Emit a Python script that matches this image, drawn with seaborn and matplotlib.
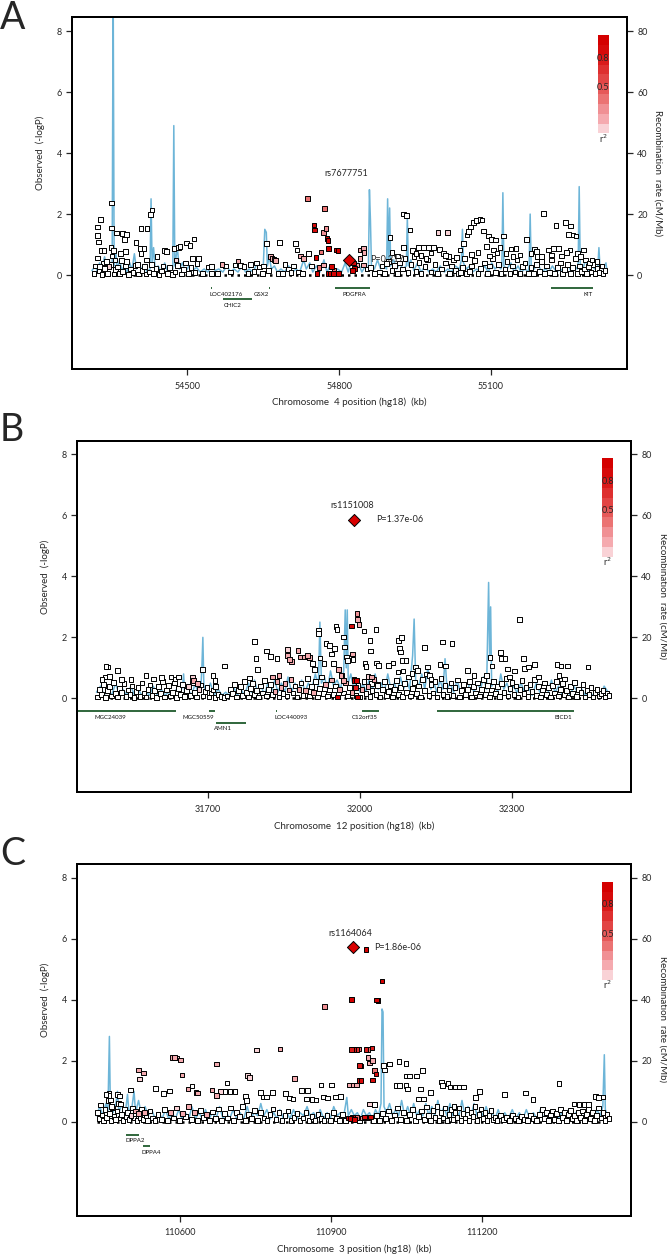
import numpy as np
import pandas as pd
import matplotlib
matplotlib.use("Agg")
import matplotlib.pyplot as plt
import seaborn as sns

sns.set_style("ticks")
plt.rcParams["font.family"] = ["Lato", "DejaVu Sans"]

# ---------------- colours ----------------
LD_COLORS = ["#F9D2D6", "#F5AAAF", "#F09094", "#EB7373", "#E65959",
             "#E24545", "#DE2F2F", "#DA1B1B", "#D60A0A", "#D40000"]
BLUE = "#6DB5D8"
GENE_GREEN = "#1F5A2C"
LEAD_RED = "#D90000"

# ---------------- panel A data (chr4) ----------------
A_snps = [
    (54322, 1.57, 0), (54322, 1.29, 0), (54328, 1.83, 0), (54324, 1.08, 0), (54322, 0.56, 0),
    (54330, 0.81, 0), (54335, 0.80, 0), (54334, 0.39, 0), (54326, 0.28, 0), (54340, 0.45, 0),
    (54350, 2.36, 0), (54350, 1.54, 0), (54349, 0.91, 0), (54354, 0.80, 0), (54351, 0.63, 0),
    (54345, 0.28, 0.05), (54360, 1.38, 0), (54371, 1.36, 0), (54379, 1.34, 0), (54376, 1.16, 0),
    (54377, 0.78, 0), (54370, 0.48, 0), (54367, 0.70, 0), (54357, 0.50, 0), (54380, 0.45, 0),
    (54398, 1.07, 0), (54408, 1.53, 0), (54420, 1.53, 0), (54427, 1.98, 0), (54430, 2.14, 0),
    (54406, 0.88, 0), (54414, 0.88, 0), (54408, 0.70, 0), (54419, 0.50, 0), (54401, 0.34, 0),
    (54440, 0.60, 0), (54454, 0.81, 0), (54458, 0.78, 0), (54473, 0.88, 0), (54482, 0.90, 0),
    (54485, 0.94, 0), (54477, 0.50, 0.05), (54498, 1.05, 0), (54505, 0.97, 0), (54513, 1.18, 0),
    (54510, 0.54, 0), (54522, 0.54, 0),
    (54542, 0.26, 0), (54547, 0.29, 0), (54568, 0.35, 0.12), (54575, 0.30, 0), (54594, 0.33, 0),
    (54600, 0.46, 0.12), (54605, 0.32, 0), (54612, 0.28, 0), (54625, 0.35, 0), (54636, 0.39, 0),
    (54642, 0.27, 0), (54651, 0.30, 0), (54656, 1.04, 0), (54664, 0.60, 0.12), (54667, 0.55, 0.12),
    (54671, 0.52, 0.12), (54674, 0.47, 0.12), (54682, 1.07, 0), (54693, 0.35, 0), (54714, 1.04, 0),
    (54717, 0.82, 0), (54724, 0.62, 0.12), (54730, 0.55, 0.12), (54739, 0.71, 0), (54710, 0.30, 0),
    (54737, 2.51, 0.3), (54771, 2.19, 0.3), (54750, 1.64, 0.85), (54751, 1.48, 0.85),
    (54774, 1.53, 0.25), (54769, 1.39, 0.2), (54776, 1.20, 0.9), (54778, 1.14, 0.9),
    (54779, 0.87, 0.9), (54795, 0.82, 0.9), (54798, 0.80, 0.9), (54754, 0.57, 0.9),
    (54764, 0.76, 0.3), (54769, 0.33, 0.12), (54785, 0.29, 0.9), (54756, 0.05, 0.9),
    (54779, 0.05, 0.9), (54782, 0.05, 0.9), (54789, 0.05, 0.9), (54799, 0.05, 0.9),
    (54745, 0.30, 0), (54760, 0.25, 0.3), (54790, 0.15, 0.3),
    (54841, 0.82, 0.15), (54848, 0.87, 0.15), (54849, 0.74, 0.15), (54841, 0.55, 0.15),
    (54835, 0.33, 0.15), (54848, 0.33, 0.12), (54830, 0.22, 0.9), (54826, 0.15, 0.9),
    (54828, 0.40, 0.8), (54855, 0.20, 0), (54862, 0.25, 0), (54870, 0.05, 0),
    (54894, 0.38, 0), (54927, 2.00, 0), (54933, 1.95, 0), (54940, 1.48, 0), (54901, 1.23, 0),
    (54927, 0.90, 0), (54957, 0.91, 0), (54967, 0.91, 0), (54977, 0.91, 0), (54987, 0.91, 0),
    (54996, 1.39, 0.05), (55015, 1.39, 0.05), (54999, 0.84, 0), (55006, 0.71, 0), (55016, 0.60, 0),
    (55026, 0.49, 0), (55039, 0.82, 0), (55046, 1.04, 0), (55053, 1.31, 0), (55056, 1.42, 0),
    (55060, 1.58, 0), (55066, 1.72, 0), (55072, 1.78, 0), (55079, 1.83, 0), (55083, 1.80, 0),
    (55086, 1.44, 0), (55095, 1.28, 0), (55102, 1.17, 0), (55109, 1.15, 0), (55092, 0.93, 0),
    (55105, 0.82, 0), (55118, 0.90, 0), (55125, 1.28, 0), (55171, 1.17, 0), (55204, 2.02, 0),
    (55192, 0.60, 0), (55214, 0.82, 0), (55224, 0.87, 0), (55234, 0.87, 0), (55229, 1.63, 0),
    (55248, 1.72, 0), (55258, 1.61, 0), (55263, 1.31, 0), (55269, 1.28, 0), (55283, 0.82, 0),
    (55257, 0.82, 0), (55254, 1.34, 0), (55287, 0.49, 0), (55295, 0.40, 0),
    (54905, 0.75, 0), (54915, 0.62, 0), (54945, 0.80, 0), (54952, 0.70, 0), (54962, 0.65, 0),
    (54972, 0.55, 0), (54982, 0.72, 0), (55010, 0.65, 0), (55032, 0.58, 0), (55062, 0.68, 0),
    (55075, 0.75, 0), (55098, 0.62, 0), (55112, 0.72, 0), (55130, 0.70, 0), (55140, 0.85, 0),
    (55150, 0.88, 0), (55144, 0.60, 0), (55158, 0.66, 0), (55180, 0.70, 0), (55186, 0.85, 0),
    (55190, 0.78, 0), (55200, 0.60, 0), (55220, 0.66, 0), (55240, 0.62, 0), (55250, 0.75, 0),
    (55272, 0.70, 0), (55278, 0.60, 0), (55300, 0.50, 0), (55310, 0.45, 0), (55320, 0.30, 0),
]
A_base = [
    (54315, .05), (54318, .30), (54325, .15), (54331, .02), (54336, .22), (54342, .06), (54348, .35),
    (54355, .03), (54358, .18), (54362, .27), (54366, .05), (54372, .12), (54378, .30), (54383, .02),
    (54387, .20), (54392, .08), (54396, .32), (54403, .04), (54410, .15), (54415, .28), (54418, .03),
    (54424, .10), (54429, .35), (54433, .05), (54438, .22), (54444, .02), (54449, .14), (54452, .30),
    (54460, .06), (54464, .25), (54470, .02), (54475, .10), (54480, .32), (54488, .04), (54492, .18),
    (54496, .40), (54502, .05), (54507, .25), (54515, .08), (54519, .38), (54530, .05), (54548, .05),
    (54560, .05), (54585, .10), (54620, .05), (54632, .12), (54648, .05), (54660, .15), (54680, .05),
    (54688, .05), (54700, .20), (54705, .08), (54720, .10), (54728, .05),
    (54880, .10), (54885, .30), (54890, .05), (54898, .45), (54905, .15), (54910, .32), (54915, .05),
    (54920, .40), (54925, .20), (54930, .55), (54936, .08), (54942, .35), (54948, .60), (54952, .12),
    (54958, .42), (54962, .05), (54970, .28), (54975, .50), (54982, .10), (54990, .35), (54995, .05),
    (55002, .20), (55010, .40), (55018, .05), (55022, .30), (55030, .15), (55035, .05), (55040, .08),
    (55044, .25), (55048, .55), (55052, .05), (55058, .12), (55062, .30), (55068, .48), (55075, .05),
    (55080, .22), (55088, .40), (55093, .06), (55098, .30), (55103, .55), (55110, .08), (55115, .35),
    (55120, .05), (55128, .20), (55132, .45), (55138, .05), (55143, .30), (55148, .10), (55152, .50),
    (55158, .05), (55163, .28), (55168, .40), (55175, .06), (55180, .25), (55185, .05), (55190, .35),
    (55196, .12), (55200, .45), (55206, .05), (55210, .30), (55216, .08), (55220, .50), (55226, .05),
    (55232, .25), (55238, .40), (55242, .05), (55246, .18), (55252, .35), (55258, .05), (55262, .25),
    (55268, .55), (55272, .05), (55276, .30), (55280, .12), (55285, .20), (55290, .05), (55294, .28),
    (55298, .10), (55302, .35), (55306, .05), (55310, .22), (55314, .08), (55318, .30), (55322, .05),
    (55326, .15),
]
A_recomb = [
    (54311, 1.5), (54318, 3), (54322, 1), (54326, 4), (54330, 1.5), (54336, 6), (54340, 2), (54345, 5),
    (54349, 2), (54351, 3), (54353, 95), (54355, 3), (54358, 8), (54361, 2), (54366, 5), (54370, 1.5),
    (54375, 3), (54380, 1), (54386, 4), (54390, 1.5), (54395, 7), (54399, 2), (54404, 4), (54410, 1.5),
    (54416, 3), (54420, 1), (54426, 2), (54428, 25), (54430, 4), (54433, 9), (54436, 2), (54442, 3),
    (54448, 1), (54455, 4), (54460, 1.5), (54466, 3), (54471, 2), (54473, 49), (54475, 3), (54480, 9),
    (54484, 2), (54490, 4), (54496, 1), (54503, 3), (54510, 1.5), (54518, 2.5), (54525, 1), (54533, 2),
    (54540, 1), (54548, 3), (54555, 1.5), (54562, 2), (54570, 1), (54578, 3), (54585, 1), (54592, 2),
    (54600, 1), (54608, 3), (54615, 1), (54622, 2), (54630, 1), (54638, 4), (54644, 2), (54650, 3),
    (54653, 15), (54656, 14), (54658, 3), (54662, 6), (54666, 2), (54672, 3), (54678, 1), (54685, 2),
    (54692, 1), (54700, 3), (54708, 1), (54715, 2), (54722, 1), (54730, 5), (54735, 2), (54742, 4),
    (54748, 1), (54755, 3), (54762, 1), (54770, 5), (54776, 1), (54782, 3), (54790, 1), (54797, 2),
    (54805, 1), (54812, 4), (54818, 1), (54825, 5), (54832, 2), (54838, 4), (54845, 1), (54852, 3),
    (54858, 2), (54860, 28), (54862, 18), (54864, 3), (54870, 2), (54876, 5), (54882, 2), (54888, 3),
    (54894, 2), (54896, 25), (54898, 4), (54900, 22), (54902, 3), (54908, 5), (54914, 2), (54920, 4),
    (54926, 2), (54933, 3), (54935, 19), (54937, 3), (54942, 5), (54948, 1.5), (54955, 4), (54962, 1),
    (54970, 3), (54978, 1), (54985, 2), (54992, 1), (55000, 3), (55008, 1), (55015, 2), (55022, 1),
    (55030, 3), (55038, 2), (55042, 5), (55044, 15), (55046, 4), (55052, 2), (55058, 3), (55064, 1),
    (55072, 2), (55080, 1), (55088, 3), (55095, 1), (55102, 4), (55108, 2), (55115, 3), (55120, 2),
    (55122, 3), (55124, 27), (55126, 3), (55132, 2), (55140, 4), (55146, 1), (55154, 3), (55160, 1),
    (55168, 2), (55174, 1), (55176, 3), (55178, 20), (55180, 3), (55186, 2), (55193, 4), (55200, 1),
    (55208, 2), (55215, 1), (55222, 3), (55230, 1), (55238, 2), (55245, 1), (55252, 4), (55258, 1.5),
    (55265, 3), (55271, 2), (55273, 4), (55275, 29), (55277, 4), (55282, 2), (55288, 5), (55294, 1.5),
    (55300, 3), (55306, 2), (55312, 3), (55314, 9), (55316, 3), (55322, 2), (55328, 4), (55330, 1),
]
A_lead = (54819, 0.50, "rs7677751", "P=0.317", 54815, 3.32)
A_genes = [  # name, start, end, row, label position
    ("LOC402176", 54547, 54549, 0, 54577),
    ("GSX2", 54661, 54663, 0, 54646),
    ("CHIC2", 54571, 54627, 1, 54589),
    ("PDGFRA", 54791, 54861, 0, 54831),
    ("KIT", 55219, 55303, 0, 55292),
]

# ---------------- panel B data (chr12) ----------------
B_snps = [
    (31503, 1.03, 0), (31499, 1.05, 0), (31521, 0.92, 0), (31497, 0.70, 0), (31506, 0.72, 0),
    (31491, 0.61, 0), (31529, 0.61, 0), (31548, 0.61, 0), (31578, 0.74, 0), (31593, 0.64, 0),
    (31608, 0.68, 0), (31627, 0.70, 0), (31635, 0.64, 0), (31642, 0.70, 0), (31669, 0.70, 0.05),
    (31672, 0.59, 0.12), (31680, 0.48, 0.12), (31689, 0.94, 0), (31710, 0.74, 0), (31714, 0.59, 0),
    (31715, 0.39, 0), (31733, 1.06, 0), (31782, 0.67, 0), (31792, 1.87, 0), (31795, 1.30, 0),
    (31798, 0.94, 0), (31816, 1.55, 0), (31823, 1.38, 0), (31836, 1.30, 0), (31827, 0.70, 0.12),
    (31840, 0.75, 0.12), (31857, 1.40, 0.12), (31861, 1.27, 0.12), (31865, 1.21, 0.1), (31857, 1.60, 0.05),
    (31878, 1.57, 0.12), (31882, 1.36, 0.12), (31891, 1.36, 0.12), (31897, 1.41, 0.12), (31900, 1.33, 0.1),
    (31906, 1.14, 0), (31910, 0.94, 0), (31918, 2.23, 0), (31918, 2.12, 0), (31921, 1.32, 0),
    (31929, 1.14, 0), (31933, 1.79, 0), (31940, 1.74, 0), (31944, 1.46, 0), (31948, 1.14, 0),
    (31950, 1.63, 0), (31953, 2.36, 0), (31955, 2.25, 0), (31958, 0.94, 0.12), (31963, 0.75, 0.12),
    (31968, 2.01, 0), (31970, 1.68, 0), (31973, 1.36, 0), (31976, 1.25, 0), (31967, 0.59, 0.12),
    (31983, 2.37, 0.85), (31985, 1.46, 0.12), (31986, 1.27, 0), (31988, 0.59, 0.9), (31993, 0.59, 0.9),
    (31991, 0.35, 0.7), (31994, 2.78, 0.25), (31995, 2.58, 0.12), (31998, 2.43, 0.12), (31995, 0.04, 0.9),
    (32008, 2.21, 0), (32020, 1.90, 0), (32021, 1.55, 0), (32010, 1.14, 0), (32012, 1.05, 0),
    (32016, 0.72, 0.05), (32023, 0.48, 0), (32032, 2.26, 0), (32033, 1.16, 0), (32037, 1.08, 0),
    (32023, 0.70, 0.12), (32035, 0.43, 0), (32056, 1.08, 0), (32065, 1.16, 0), (32076, 1.90, 0),
    (32078, 1.63, 0), (32080, 1.52, 0), (32082, 1.99, 0), (32084, 1.25, 0), (32091, 1.25, 0),
    (32075, 0.86, 0), (32085, 0.90, 0), (32103, 0.81, 0), (32110, 1.03, 0), (32114, 0.92, 0),
    (32127, 1.66, 0), (32133, 1.03, 0), (32137, 0.75, 0), (32140, 0.64, 0), (32158, 1.11, 0),
    (32169, 1.06, 0), (32163, 1.85, 0), (32182, 1.79, 0), (32212, 0.92, 0), (32225, 0.74, 0),
    (32250, 0.75, 0), (32257, 1.33, 0), (32261, 1.06, 0), (32278, 1.50, 0), (32280, 1.30, 0),
    (32286, 1.30, 0), (32291, 0.96, 0), (32295, 0.70, 0), (32305, 0.90, 0), (32315, 2.58, 0),
    (32323, 1.30, 0), (32325, 0.97, 0), (32333, 1.03, 0), (32344, 1.10, 0), (32352, 0.70, 0),
    (32389, 1.10, 0), (32397, 1.06, 0), (32410, 1.06, 0), (32393, 0.75, 0), (32404, 0.64, 0),
    (32450, 1.03, 0),
]
B_base = [
    (31482, .05, 0), (31486, .30, 0), (31490, .12, 0), (31494, .45, 0), (31498, .02, 0), (31502, .25, 0),
    (31506, .38, 0), (31510, .08, 0), (31514, .52, 0), (31518, .15, 0), (31522, .04, 0), (31526, .33, 0),
    (31530, .20, 0), (31534, .48, 0), (31538, .06, 0), (31542, .28, 0), (31546, .12, 0), (31550, .40, 0),
    (31554, .03, 0), (31558, .22, 0), (31562, .35, 0), (31566, .07, 0), (31570, .50, 0), (31574, .18, 0),
    (31578, .04, 0), (31582, .30, 0), (31586, .44, 0), (31590, .10, 0), (31594, .25, 0), (31598, .02, 0),
    (31602, .38, 0), (31606, .15, 0), (31610, .55, 0), (31614, .05, 0), (31618, .28, 0), (31622, .42, 0),
    (31626, .08, 0), (31630, .20, 0), (31634, .50, 0), (31638, .03, 0), (31642, .33, 0), (31646, .12, 0),
    (31650, .45, 0), (31654, .06, 0), (31658, .25, 0), (31662, .38, .05), (31666, .10, 0), (31670, .52, 0),
    (31674, .20, 0), (31678, .04, 0), (31682, .30, .05), (31686, .44, 0), (31690, .08, 0), (31694, .22, 0),
    (31698, .35, 0), (31702, .05, 0), (31706, .18, 0), (31710, .28, 0), (31714, .03, 0), (31720, .12, 0),
    (31726, .06, 0), (31732, .02, 0), (31738, .08, 0), (31744, .30, 0), (31748, .15, 0), (31752, .45, 0),
    (31756, .05, 0), (31760, .25, 0), (31764, .38, 0), (31768, .10, 0), (31772, .55, 0), (31776, .20, 0),
    (31780, .04, 0), (31784, .32, 0), (31788, .48, 0), (31792, .12, 0), (31796, .25, 0), (31800, .05, 0),
    (31804, .40, 0), (31808, .18, 0), (31812, .58, 0), (31816, .08, 0), (31820, .30, 0), (31824, .45, 0),
    (31828, .12, 0), (31832, .22, .12), (31836, .55, .12), (31840, .05, 0), (31844, .35, .12), (31848, .15, 0),
    (31852, .48, .12), (31856, .08, 0), (31860, .28, .12), (31864, .62, .12), (31868, .18, 0), (31872, .40, 0),
    (31876, .05, 0), (31880, .30, .12), (31884, .50, 0), (31888, .10, 0), (31892, .25, .12), (31896, .65, 0),
    (31900, .08, 0), (31904, .38, 0), (31908, .20, .12), (31912, .55, 0), (31916, .04, 0), (31920, .32, 0),
    (31924, .70, 0), (31928, .15, 0), (31932, .45, .12), (31936, .08, 0), (31940, .28, 0), (31944, .60, .12),
    (31948, .12, 0), (31952, .40, 0), (31956, .05, .9), (31960, .30, .12), (31964, .75, 0), (31968, .18, 0),
    (31972, .50, .12), (31976, .08, 0), (31980, .35, 0), (31984, .20, .12), (31988, .62, 0), (31992, .10, 0),
    (31996, .42, 0), (32000, .05, 0), (32004, .30, .12), (32008, .55, 0), (32012, .15, 0), (32016, .38, .12),
    (32020, .06, 0), (32024, .25, 0), (32028, .62, .12), (32032, .12, 0), (32036, .45, 0), (32040, .04, 0),
    (32044, .30, 0), (32048, .55, 0), (32052, .10, 0), (32056, .22, 0), (32060, .40, 0), (32064, .05, 0),
    (32068, .30, 0), (32072, .58, 0), (32076, .12, 0), (32080, .35, 0), (32084, .06, 0), (32088, .48, 0),
    (32092, .20, 0), (32096, .70, 0), (32100, .08, 0), (32104, .32, 0), (32108, .52, 0), (32112, .15, 0),
    (32116, .40, 0), (32120, .05, 0), (32124, .62, 0), (32128, .25, 0), (32132, .80, 0), (32136, .10, 0),
    (32140, .45, 0), (32144, .18, 0), (32148, .55, 0), (32152, .05, 0), (32156, .30, 0), (32160, .65, 0),
    (32164, .12, 0), (32168, .42, 0), (32172, .06, 0), (32176, .28, 0), (32180, .50, 0), (32184, .10, 0),
    (32188, .35, 0), (32192, .60, 0), (32196, .04, 0), (32200, .25, 0), (32204, .45, 0), (32208, .12, 0),
    (32212, .30, 0), (32216, .55, 0), (32220, .05, 0), (32224, .38, 0), (32228, .18, 0), (32232, .50, 0),
    (32236, .08, 0), (32240, .30, 0), (32244, .62, 0), (32248, .12, 0), (32252, .42, 0), (32256, .05, 0),
    (32260, .28, 0), (32264, .55, 0), (32268, .15, 0), (32272, .38, 0), (32276, .06, 0), (32280, .48, 0),
    (32284, .20, 0), (32288, .65, 0), (32292, .08, 0), (32296, .32, 0), (32300, .52, 0), (32304, .12, 0),
    (32308, .40, 0), (32312, .05, 0), (32316, .30, 0), (32320, .58, 0), (32324, .15, 0), (32328, .35, 0),
    (32332, .06, 0), (32336, .45, 0), (32340, .22, 0), (32344, .62, 0), (32348, .10, 0), (32352, .38, 0),
    (32356, .05, 0), (32360, .28, 0), (32364, .50, 0), (32368, .12, 0), (32372, .35, 0), (32376, .04, 0),
    (32380, .42, 0), (32384, .18, 0), (32388, .55, 0), (32392, .08, 0), (32396, .30, 0), (32400, .48, 0),
    (32404, .12, 0), (32408, .25, 0), (32412, .05, 0), (32416, .38, 0), (32420, .15, 0), (32424, .52, 0),
    (32428, .06, 0), (32432, .30, 0), (32436, .20, 0), (32440, .45, 0), (32444, .05, 0), (32448, .25, 0),
    (32452, .12, 0), (32456, .35, 0), (32460, .04, 0), (32464, .20, 0), (32468, .30, 0), (32472, .08, 0),
    (32476, .15, 0), (32480, .25, 0), (32484, .05, 0), (32488, .18, 0), (32492, .10, 0),
]
B_recomb = [
    (31480, 2), (31488, 4), (31495, 1), (31503, 3), (31510, 1), (31518, 5), (31525, 1), (31532, 3),
    (31540, 1), (31548, 4), (31555, 1), (31562, 3), (31570, 1), (31578, 2), (31585, 1), (31592, 4),
    (31600, 1), (31608, 3), (31615, 1), (31622, 2), (31630, 1), (31638, 3), (31645, 2), (31650, 4),
    (31652, 8), (31654, 2), (31660, 3), (31668, 1), (31675, 5), (31680, 2), (31686, 3), (31688, 10),
    (31690, 20), (31692, 4), (31698, 2), (31705, 5), (31712, 1), (31720, 3), (31728, 1), (31735, 2),
    (31742, 1), (31750, 4), (31758, 1), (31765, 3), (31772, 1), (31780, 5), (31786, 2), (31792, 6),
    (31798, 2), (31805, 4), (31812, 1), (31818, 5), (31825, 2), (31832, 6), (31838, 2), (31845, 5),
    (31852, 2), (31858, 7), (31865, 2), (31872, 5), (31878, 2), (31885, 6), (31892, 2), (31898, 5),
    (31905, 3), (31912, 8), (31918, 4), (31921, 25), (31924, 5), (31930, 7), (31936, 3), (31942, 9),
    (31948, 4), (31955, 6), (31962, 3), (31968, 9), (31971, 29), (31973, 10), (31975, 29), (31977, 5),
    (31982, 8), (31988, 3), (31994, 6), (32000, 2), (32006, 5), (32012, 2), (32018, 6), (32024, 2),
    (32030, 8), (32036, 3), (32042, 5), (32048, 2), (32055, 8), (32061, 3), (32068, 5), (32074, 2),
    (32080, 7), (32086, 3), (32092, 6), (32098, 3), (32104, 14), (32107, 26), (32110, 6), (32116, 4),
    (32122, 8), (32128, 3), (32134, 10), (32140, 3), (32146, 5), (32152, 2), (32158, 6), (32164, 3),
    (32168, 13), (32172, 3), (32178, 5), (32185, 2), (32192, 6), (32198, 2), (32205, 5), (32212, 2),
    (32218, 6), (32225, 2), (32232, 5), (32238, 3), (32244, 7), (32250, 3), (32254, 38), (32256, 14),
    (32258, 30), (32260, 4), (32266, 6), (32272, 2), (32278, 8), (32284, 3), (32290, 5), (32296, 2),
    (32303, 4), (32310, 2), (32318, 5), (32325, 2), (32332, 4), (32340, 1), (32348, 5), (32355, 2),
    (32362, 3), (32370, 1), (32378, 6), (32385, 2), (32392, 4), (32400, 1), (32408, 3), (32415, 1),
    (32422, 4), (32430, 2), (32438, 3), (32445, 1), (32452, 2), (32460, 1), (32468, 3), (32475, 1),
    (32482, 4), (32490, 2), (32494, 1),
]
B_lead = (31988, 5.86, "rs1151008", "P=1.37e-06", 31984, 6.32)
B_genes = [
    ("MGC24039", 31400, 31637, 0, 31508),
    ("MGC50559", 31703, 31714, 0, 31680),
    ("AMN1", 31716, 31776, 1, 31730),
    ("LOC440093", 31835, 31837, 0, 31865),
    ("C12orf35", 32004, 32038, 0, 32010),
    ("BICD1", 32152, 32423, 0, 32401),
]

# ---------------- panel C data (chr3) ----------------
C_snps = [
    (110969, 5.65, 0.9), (111001, 4.62, 0.9), (110940, 4.02, 0.9), (110990, 4.00, 0.9),
    (110993, 3.98, 0.85), (110887, 3.78, 0.2), (110752, 2.35, 0.05), (110798, 2.39, 0.12),
    (110940, 2.37, 0.75), (110944, 2.37, 0.7), (110950, 2.38, 0.6), (110954, 2.39, 0.35),
    (110969, 2.38, 0.7), (110973, 2.38, 0.35), (110981, 2.42, 0.7), (110973, 2.11, 0.12),
    (110976, 1.93, 0.12), (110982, 2.01, 0.12), (110956, 1.84, 0.7), (110958, 1.83, 0.35),
    (110955, 1.36, 0.8), (110959, 1.36, 0.8), (110982, 1.37, 0.85), (110986, 1.68, 0.3),
    (110989, 1.57, 0.8), (110936, 1.21, 0.15), (110944, 1.21, 0.15), (110950, 1.21, 0.15),
    (110976, 0.59, 0.05), (110986, 0.56, 0), (111004, 1.85, 0), (111006, 1.70, 0),
    (111016, 1.90, 0), (111035, 1.98, 0), (111049, 1.92, 0), (111030, 1.19, 0), (111036, 1.19, 0),
    (111049, 1.19, 0), (111052, 1.08, 0), (111049, 1.50, 0), (111056, 1.50, 0), (111069, 1.50, 0),
    (111081, 1.68, 0), (111078, 1.08, 0), (111073, 0.75, 0), (111083, 0.75, 0), (111098, 0.97, 0),
    (111119, 1.30, 0), (111121, 1.19, 0), (111132, 1.25, 0), (111136, 1.14, 0), (111147, 1.14, 0),
    (111155, 1.14, 0), (111163, 1.14, 0), (111144, 0.51, 0), (111187, 0.79, 0), (111195, 0.99, 0),
    (111245, 0.90, 0), (111286, 0.94, 0), (111301, 0.73, 0), (111353, 1.26, 0), (111383, 0.59, 0),
    (111393, 0.57, 0), (111404, 0.57, 0), (111412, 0.57, 0), (111425, 0.84, 0), (111432, 0.79, 0),
    (111440, 0.81, 0), (110585, 2.11, 0.12), (110589, 2.10, 0.12), (110593, 2.09, 0.05),
    (110600, 2.03, 0.12), (110603, 1.54, 0.12), (110517, 1.70, 0.12), (110527, 1.60, 0.12),
    (110519, 1.40, 0.05), (110501, 1.05, 0), (110551, 1.10, 0), (110566, 0.92, 0), (110579, 1.01, 0),
    (110615, 1.08, 0.12), (110623, 1.17, 0), (110631, 0.97, 0.12), (110634, 0.94, 0.12),
    (110672, 1.90, 0.12), (110663, 1.05, 0.12), (110672, 0.86, 0.12), (110680, 0.99, 0.05),
    (110689, 0.99, 0), (110699, 0.99, 0), (110709, 0.99, 0), (110693, 1.27, 0), (110733, 1.52, 0.05),
    (110737, 1.46, 0.05), (110729, 0.84, 0), (110732, 0.70, 0), (110760, 0.97, 0), (110764, 0.81, 0),
    (110771, 0.81, 0), (110783, 0.97, 0), (110827, 1.43, 0.12), (110841, 1.03, 0), (110853, 1.03, 0),
    (110880, 1.21, 0), (110900, 1.21, 0), (110885, 0.81, 0), (110893, 0.78, 0), (110908, 0.81, 0),
    (110918, 0.83, 0), (110809, 0.92, 0), (110817, 0.78, 0), (110824, 0.75, 0), (110851, 0.75, 0),
    (110862, 0.73, 0), (110870, 0.72, 0), (110458, 0.94, 0), (110458, 0.86, 0), (110452, 0.90, 0),
    (110461, 0.72, 0), (110463, 0.50, 0), (110475, 0.89, 0), (110479, 0.85, 0), (110481, 0.59, 0),
]
C_base = [
    (110435, .30, 0), (110438, .10, 0), (110441, .55, 0), (110444, .22, 0), (110447, .05, 0),
    (110450, .40, 0), (110453, .15, 0), (110456, .70, 0), (110459, .28, 0), (110462, .05, 0),
    (110465, .45, 0), (110468, .18, 0), (110471, .08, 0), (110474, .35, 0), (110477, .60, 0),
    (110480, .12, 0), (110483, .25, 0), (110486, .05, 0), (110489, .40, 0), (110492, .18, 0),
    (110495, .30, 0), (110498, .08, 0), (110502, .20, .05), (110505, .45, 0), (110508, .12, 0),
    (110511, .35, .12), (110514, .05, 0), (110517, .28, .12), (110520, .15, 0), (110523, .42, 0),
    (110526, .08, 0), (110529, .30, .12), (110532, .20, 0), (110535, .05, 0), (110540, .35, 0),
    (110545, .12, 0), (110550, .05, 0), (110556, .25, 0), (110562, .08, 0), (110568, .40, 0),
    (110574, .05, 0), (110580, .30, .12), (110586, .12, 0), (110592, .45, .05), (110598, .05, 0),
    (110604, .28, .12), (110610, .18, 0), (110616, .50, .12), (110622, .08, 0), (110628, .30, .12),
    (110634, .05, 0), (110640, .38, 0), (110646, .15, 0), (110652, .25, .12), (110658, .05, 0),
    (110664, .32, 0), (110670, .10, 0), (110676, .42, 0), (110682, .05, 0), (110688, .28, 0),
    (110694, .12, 0), (110700, .45, 0), (110706, .05, 0), (110712, .30, 0), (110718, .18, 0),
    (110724, .50, 0), (110730, .05, 0), (110736, .25, 0), (110742, .10, 0), (110748, .38, 0),
    (110754, .04, 0), (110760, .30, 0), (110766, .12, 0), (110772, .05, 0), (110778, .25, 0),
    (110784, .42, 0), (110790, .08, 0), (110796, .30, 0), (110802, .05, 0), (110808, .20, 0),
    (110814, .35, 0), (110820, .05, 0), (110826, .15, 0), (110832, .28, 0), (110838, .05, 0),
    (110844, .12, 0), (110850, .30, 0), (110856, .05, 0), (110862, .18, 0), (110868, .05, 0),
    (110874, .25, 0), (110880, .10, 0), (110886, .05, 0), (110892, .20, 0), (110898, .05, 0),
    (110904, .30, 0), (110910, .10, 0), (110916, .05, 0), (110922, .25, 0), (110928, .05, 0),
    (110934, .12, .9), (110938, .10, .9), (110942, .15, .8), (110946, .08, .9), (110950, .14, .35),
    (110956, .05, 0), (110962, .12, .25), (110966, .16, .8), (110972, .14, .7), (110978, .16, .8),
    (110984, .05, 0), (110990, .20, 0), (110996, .05, 0), (111002, .28, 0), (111008, .10, 0),
    (111014, .35, 0), (111020, .05, 0), (111026, .22, 0), (111032, .45, 0), (111038, .08, 0),
    (111044, .30, 0), (111050, .05, 0), (111056, .25, 0), (111062, .40, 0), (111068, .05, 0),
    (111074, .18, 0), (111080, .35, 0), (111086, .08, 0), (111090, .48, 0), (111094, .20, 0),
    (111098, .05, 0), (111102, .38, 0), (111106, .15, 0), (111110, .50, 0), (111114, .05, 0),
    (111118, .30, 0), (111122, .12, 0), (111126, .45, 0), (111130, .05, 0), (111134, .25, 0),
    (111138, .40, 0), (111142, .08, 0), (111146, .30, 0), (111150, .15, 0), (111154, .45, 0),
    (111158, .05, 0), (111162, .28, 0), (111166, .12, 0), (111170, .40, 0), (111174, .05, 0),
    (111178, .30, 0), (111182, .18, 0), (111186, .50, 0), (111190, .05, 0), (111194, .25, 0),
    (111198, .42, 0), (111202, .10, 0), (111206, .30, 0), (111210, .05, 0), (111214, .20, 0),
    (111218, .38, 0), (111222, .08, 0), (111226, .15, 0), (111230, .05, 0), (111236, .20, 0),
    (111242, .08, 0), (111248, .15, 0), (111254, .05, 0), (111260, .20, 0), (111266, .10, 0),
    (111272, .05, 0), (111278, .18, 0), (111284, .08, 0), (111290, .05, 0), (111296, .20, 0),
    (111302, .10, 0), (111308, .05, 0), (111314, .25, 0), (111320, .40, 0), (111324, .10, 0),
    (111328, .30, 0), (111332, .05, 0), (111336, .22, 0), (111340, .35, 0), (111344, .08, 0),
    (111348, .28, 0), (111352, .05, 0), (111356, .40, 0), (111360, .15, 0), (111364, .30, 0),
    (111368, .05, 0), (111372, .25, 0), (111376, .38, 0), (111380, .10, 0), (111384, .20, 0),
    (111388, .05, 0), (111392, .30, 0), (111396, .15, 0), (111400, .35, 0), (111404, .05, 0),
    (111408, .25, 0), (111412, .40, 0), (111416, .10, 0), (111420, .30, 0), (111424, .05, 0),
    (111428, .20, 0), (111432, .45, 0), (111436, .12, 0), (111440, .30, 0), (111444, .05, 0),
    (111448, .25, 0), (111452, .10, 0),
]
C_recomb = [
    (110433, 2), (110440, 5), (110446, 2), (110452, 6), (110456, 3), (110459, 28), (110461, 4),
    (110466, 3), (110472, 6), (110475, 10), (110478, 3), (110484, 6), (110490, 2), (110495, 9),
    (110498, 3), (110504, 5), (110508, 10), (110511, 3), (110517, 7), (110523, 2), (110530, 5),
    (110536, 2), (110543, 4), (110550, 1), (110557, 3), (110564, 1), (110570, 4), (110577, 1),
    (110584, 3), (110590, 1), (110597, 4), (110603, 1), (110610, 3), (110617, 1), (110623, 5),
    (110630, 1), (110637, 3), (110644, 1), (110650, 4), (110657, 1), (110664, 3), (110671, 1),
    (110678, 5), (110685, 1), (110692, 3), (110698, 1), (110705, 4), (110712, 1), (110719, 3),
    (110726, 1), (110733, 5), (110740, 1), (110747, 3), (110754, 2), (110760, 6), (110766, 2),
    (110772, 4), (110779, 1), (110786, 3), (110792, 1), (110798, 4), (110805, 1), (110812, 3),
    (110818, 1), (110825, 4), (110832, 1), (110838, 3), (110845, 2), (110852, 5), (110858, 2),
    (110865, 3), (110872, 1), (110878, 4), (110885, 1), (110892, 3), (110898, 1), (110905, 5),
    (110912, 2), (110918, 3), (110925, 2), (110931, 8), (110934, 2), (110940, 4), (110946, 2),
    (110952, 3), (110958, 1), (110964, 4), (110970, 2), (110976, 3), (110982, 1), (110988, 4),
    (110994, 2), (110999, 6), (111001, 37), (111003, 36), (111005, 5), (111010, 3), (111016, 6),
    (111022, 2), (111028, 4), (111034, 2), (111040, 7), (111046, 2), (111052, 5), (111058, 2),
    (111064, 6), (111070, 2), (111076, 4), (111082, 2), (111088, 6), (111094, 2), (111100, 5),
    (111106, 2), (111112, 7), (111118, 2), (111124, 5), (111130, 2), (111136, 6), (111142, 2),
    (111148, 4), (111154, 2), (111160, 7), (111166, 2), (111172, 5), (111178, 2), (111184, 6),
    (111190, 2), (111196, 4), (111202, 2), (111208, 5), (111214, 2), (111220, 3), (111226, 1),
    (111232, 4), (111238, 1), (111245, 3), (111252, 1), (111260, 4), (111267, 1), (111274, 3),
    (111281, 1), (111288, 4), (111295, 1), (111302, 3), (111309, 1), (111316, 4), (111323, 1),
    (111330, 3), (111337, 1), (111344, 4), (111351, 1), (111358, 3), (111365, 1), (111372, 4),
    (111379, 1), (111386, 3), (111393, 1), (111400, 4), (111407, 1), (111414, 3), (111421, 1),
    (111428, 4), (111435, 2), (111440, 5), (111443, 22), (111445, 4), (111450, 2), (111455, 1),
]
C_lead = (110943, 5.73, "rs1164064", "P=1.86e-06", 110938, 6.19)
C_genes = [
    ("DPPA2", 110492, 110517, 0, 110510),
    ("DPPA4", 110526, 110539, 1, 110543),
]

PANELS = [
    dict(letter="A", letter_y=1.0, rect=[0.1075, 0.7057, 0.8321, 0.2805], chrom="4",
         xlim=(54271, 55369), xticks=[54500, 54800, 55100],
         snps=A_snps, base=[(p, l, 0) for p, l in A_base], rec=A_recomb, lead=A_lead, genes=A_genes),
    dict(letter="B", letter_y=0.6715, rect=[0.1150, 0.3682, 0.8310, 0.2804], chrom="12",
         xlim=(31441, 32535), xticks=[31700, 32000, 32300],
         snps=B_snps, base=B_base, rec=B_recomb, lead=B_lead, genes=B_genes),
    dict(letter="C", letter_y=0.3333, rect=[0.1150, 0.0305, 0.8310, 0.2804], chrom="3",
         xlim=(110394, 111496), xticks=[110600, 110900, 111200],
         snps=C_snps, base=C_base, rec=C_recomb, lead=C_lead, genes=C_genes),
]

YLIM = (-3.08, 8.45)
GENE_ROW_Y = [-0.42, -0.80]
GENE_LABEL_Y = [-0.62, -0.99]


def fill_color(r2):
    if r2 <= 0:
        return "#FFFFFF"
    return LD_COLORS[min(int(r2 * 10), 9)]


fig = plt.figure(figsize=(6.67, 12.54), dpi=100)

for P in PANELS:
    ax = fig.add_axes(P["rect"])
    ax2 = ax.twinx()
    ax.set_zorder(ax2.get_zorder() + 1)
    ax.patch.set_visible(False)

    # recombination rate
    rec = pd.DataFrame(P["rec"], columns=["pos", "rate"])
    sns.lineplot(data=rec, x="pos", y="rate", ax=ax2, color=BLUE, linewidth=1.1,
                 estimator=None, sort=False)
    ax2.set_ylim(YLIM[0] * 10, YLIM[1] * 10)
    ax2.set_yticks([0, 20, 40, 60, 80])

    # SNPs
    df = pd.DataFrame(list(P["base"]) + list(P["snps"]), columns=["pos", "logp", "r2"])
    df["fc"] = df["r2"].map(fill_color)
    df = df.sort_values("r2", kind="stable").reset_index(drop=True)

    # dotted baseline
    ax.hlines(0, df["pos"].min(), df["pos"].max(), color="black",
              linestyles=(0, (1.0, 1.6)), linewidth=1.8, zorder=1)

    pal = {c: c for c in df["fc"].unique()}
    sns.scatterplot(data=df, x="pos", y="logp", hue="fc", palette=pal, legend=False,
                    marker="s", s=11, edgecolor="black", linewidth=0.7, ax=ax, zorder=3)

    lp, ll, name, ptxt, lx, ly = P["lead"]
    sns.scatterplot(x=[lp], y=[ll], marker="D", s=38, color=LEAD_RED, edgecolor="black",
                    linewidth=0.7, ax=ax, zorder=5)
    ax.text(lx, ly, name, ha="center", va="center", fontsize=6.5, zorder=4)
    ax.text(lp + 43, ll, ptxt, ha="left", va="center", fontsize=6.5, zorder=4)

    # genes
    for gname, gs, ge, row, lab in P["genes"]:
        ax.hlines(GENE_ROW_Y[row], gs, ge, color=GENE_GREEN, linewidth=1.3, zorder=2)
        ax.text(lab, GENE_LABEL_Y[row], gname, ha="center", va="center", fontsize=4.4,
                color="#111111")

    # axes cosmetics
    ax.set_xlim(*P["xlim"])
    ax.set_ylim(*YLIM)
    ax.set_yticks([0, 2, 4, 6, 8])
    ax.set_xticks(P["xticks"])
    ax.set_xticklabels([str(t) for t in P["xticks"]])
    ax.tick_params(axis="y", direction="out", length=4, width=0.9, labelsize=6.5, pad=3,
                   left=True, right=False)
    ax.tick_params(axis="x", direction="out", length=4, width=0.9, labelsize=6.5, pad=5,
                   bottom=True, top=False)
    ax2.tick_params(axis="y", direction="out", length=4, width=0.9, labelsize=6.5, pad=3.5,
                    right=True, left=False)
    for a in (ax, ax2):
        for sp in a.spines.values():
            sp.set_visible(True)
            sp.set_linewidth(1.4)
            sp.set_color("black")

    ax.set_xlabel(f"Chromosome  {P['chrom']} position (hg18)  (kb)", fontsize=7)
    ax.xaxis.set_label_coords(0.5, -0.082)
    ax.set_ylabel("Observed  (-logP)", fontsize=7, ha="center", va="center")
    ax.yaxis.set_label_coords(-0.056, 0.614)
    ax2.set_ylabel("Recombination  rate (cM/Mb)", fontsize=7, rotation=270,
                   ha="center", va="center")
    ax2.yaxis.set_label_coords(1.057, 0.558)

    # r2 legend bar
    cax = ax.inset_axes([0.948, 0.670, 0.0196, 0.2797])
    levels = np.arange(10) / 10
    cax.bar([0.5] * 10, [0.1] * 10, bottom=levels, width=1.0, color=LD_COLORS, linewidth=0)
    cax.set_xlim(0, 1)
    cax.set_ylim(0, 1)
    cax.axis("off")
    cax.text(0.5, 0.765, "0.8", ha="center", va="center", fontsize=6.5)
    cax.text(0.5, 0.465, "0.5", ha="center", va="center", fontsize=6.5)
    cax.text(0.5, -0.05, "r$^2$", ha="center", va="center", fontsize=6.5)

    fig.text(0.0, P["letter_y"], P["letter"], ha="left", va="top", fontsize=27)

fig.savefig("out.png", dpi=100)
